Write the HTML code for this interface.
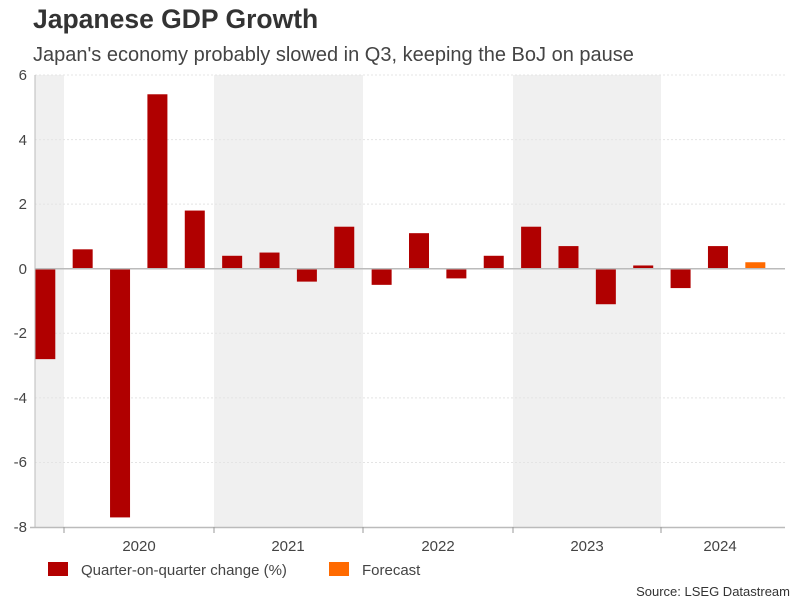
<!DOCTYPE html>
<html><head><meta charset="utf-8"><style>
body{margin:0;background:#fff;width:801px;height:601px;overflow:hidden;font-family:"Liberation Sans",sans-serif}
</style></head><body>
<svg width="801" height="601" xmlns="http://www.w3.org/2000/svg" font-family="Liberation Sans, sans-serif">
<text x="33" y="28" font-size="26.5" font-weight="bold" fill="#333">Japanese GDP Growth</text>
<text x="33" y="61" font-size="20" fill="#444">Japan's economy probably slowed in Q3, keeping the BoJ on pause</text>
<rect x="35" y="75" width="29" height="452" fill="#f0f0f0"/>
<rect x="214" y="75" width="149" height="452" fill="#f0f0f0"/>
<rect x="513" y="75" width="148" height="452" fill="#f0f0f0"/>
<g stroke="#e4e4e4" stroke-dasharray="2,2">
<line x1="35" x2="785" y1="75" y2="75"/><line x1="35" x2="785" y1="139.6" y2="139.6"/>
<line x1="35" x2="785" y1="204.1" y2="204.1"/><line x1="35" x2="785" y1="333.3" y2="333.3"/>
<line x1="35" x2="785" y1="397.9" y2="397.9"/><line x1="35" x2="785" y1="462.5" y2="462.5"/>
</g>
<g font-size="15" fill="#444" text-anchor="end">
<text x="27" y="80">6</text><text x="27" y="145">4</text><text x="27" y="209">2</text>
<text x="27" y="274">0</text><text x="27" y="338">-2</text><text x="27" y="403">-4</text>
<text x="27" y="467">-6</text><text x="27" y="532">-8</text>
</g>
<g id="bars"></g>
<line x1="35" x2="785" y1="268.7" y2="268.7" stroke="#bbb" stroke-width="1.5"/>
<line x1="35" x2="35" y1="75" y2="527" stroke="#bbb"/>
<line x1="30" x2="785" y1="527.5" y2="527.5" stroke="#bbb" stroke-width="1.5"/>
<g stroke="#999"><line x1="64" x2="64" y1="527" y2="533"/><line x1="214" x2="214" y1="527" y2="533"/><line x1="363" x2="363" y1="527" y2="533"/><line x1="513" x2="513" y1="527" y2="533"/><line x1="661" x2="661" y1="527" y2="533"/></g>
<g font-size="15" fill="#444" text-anchor="middle">
<text x="139" y="551">2020</text><text x="288" y="551">2021</text><text x="438" y="551">2022</text><text x="587" y="551">2023</text><text x="720" y="551">2024</text>
</g>
<rect x="48" y="562" width="20" height="14" fill="#b30000"/>
<text x="81" y="575" font-size="15" fill="#444">Quarter-on-quarter change (%)</text>
<rect x="329" y="562" width="20" height="14" fill="#ff6a00"/>
<text x="362" y="575" font-size="15" fill="#444">Forecast</text>
<text x="790" y="596" font-size="13" fill="#333" text-anchor="end">Source: LSEG Datastream</text>
</svg>
<script>
var v=[-2.8,0.6,-7.7,5.4,1.8,0.4,0.5,-0.4,1.3,-0.5,1.1,-0.3,0.4,1.3,0.7,-1.1,0.1,-0.6,0.7,0.2];
var g=document.getElementById('bars'),s='';
v.forEach(function(d,i){var c=45.3+i*37.37,y0=268.7,y1=268.7-32.3*d;
s+='<rect x="'+(c-10)+'" y="'+Math.min(y0,y1)+'" width="20" height="'+Math.abs(y1-y0)+'" fill="'+(i==19?'#ff6a00':'#b00000')+'"/>';});
g.innerHTML=s;
</script>
</body></html>
